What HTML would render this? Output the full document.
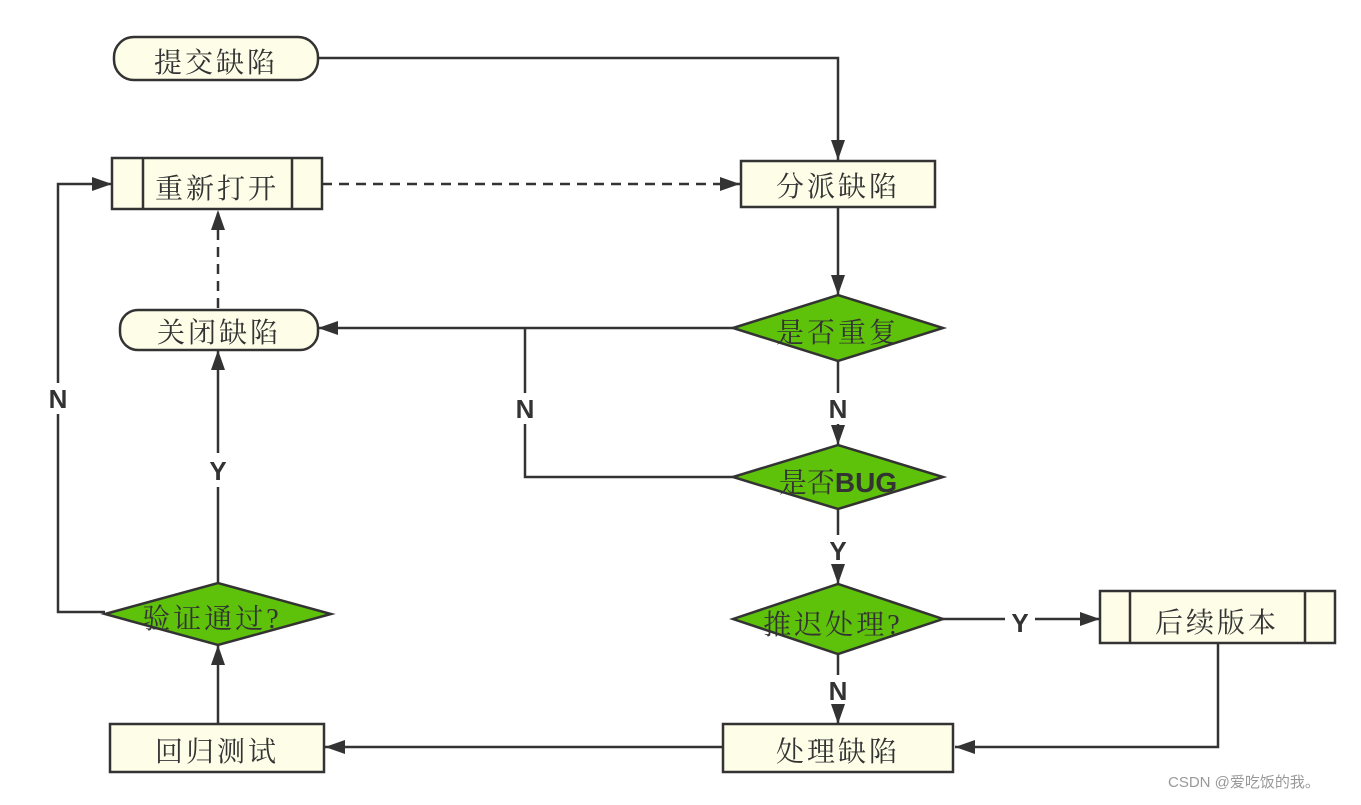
<!DOCTYPE html>
<html><head><meta charset="utf-8"><style>
body{margin:0;background:#fff;}
svg text{font-family:"Liberation Serif","Noto Serif CJK SC",serif;font-size:28px;fill:#333;}
.l{font-family:"Liberation Sans",sans-serif;font-weight:bold;font-size:26px;}
</style></head><body>
<svg width="1361" height="800" viewBox="0 0 1361 800" xmlns="http://www.w3.org/2000/svg">
<defs>
<marker id="b" markerWidth="20" markerHeight="14" refX="20" refY="7" orient="auto" markerUnits="userSpaceOnUse"><path d="M0,0 L20,7 L0,14z" fill="#333"/></marker></defs>
<g stroke="#333" stroke-width="2.5" fill="none">
<polyline points="318,58 838,58 838,160" marker-end="url(#b)"/>
<line x1="838" y1="207" x2="838" y2="295" marker-end="url(#b)"/>
<line x1="322" y1="184" x2="740" y2="184" stroke-dasharray="10,7" marker-end="url(#b)"/>
<line x1="218" y1="308" x2="218" y2="210" stroke-dasharray="10,7" marker-end="url(#b)"/>
<line x1="733" y1="328" x2="318" y2="328" marker-end="url(#b)"/>
<polyline points="838,361 838,393"/><line x1="838" y1="424" x2="838" y2="445" marker-end="url(#b)"/>
<polyline points="733,477 525,477 525,424"/><line x1="525" y1="393" x2="525" y2="328"/>
<polyline points="838,509 838,535"/><line x1="838" y1="565" x2="838" y2="584" marker-end="url(#b)"/>
<line x1="943" y1="619" x2="1005" y2="619"/><line x1="1035" y1="619" x2="1100" y2="619" marker-end="url(#b)"/>
<polyline points="1218,643 1218,747 955,747" marker-end="url(#b)"/>
<line x1="838" y1="654" x2="838" y2="675"/><line x1="838" y1="705" x2="838" y2="724" marker-end="url(#b)"/>
<line x1="723" y1="747" x2="325" y2="747" marker-end="url(#b)"/>
<line x1="218" y1="724" x2="218" y2="645" marker-end="url(#b)"/>
<line x1="218" y1="583" x2="218" y2="487"/><line x1="218" y1="453" x2="218" y2="350" marker-end="url(#b)"/>
<polyline points="105,612 58,612 58,414"/><polyline points="58,383 58,184 112,184" marker-end="url(#b)"/>
</g>
<g stroke="#333" stroke-width="2.5" fill="#fefde8">
<rect x="114" y="37" width="204" height="43" rx="20"/>
<rect x="741" y="161" width="194" height="46"/>
<rect x="112" y="158" width="210" height="51"/>
<line x1="143" y1="158" x2="143" y2="209"/><line x1="292" y1="158" x2="292" y2="209"/>
<rect x="120" y="310" width="198" height="40" rx="18"/>
<rect x="1100" y="591" width="235" height="52"/>
<line x1="1130" y1="591" x2="1130" y2="643"/><line x1="1305" y1="591" x2="1305" y2="643"/>
<rect x="723" y="724" width="230" height="48"/>
<rect x="110" y="724" width="214" height="48"/>
</g>
<g stroke="#333" stroke-width="2.5" fill="#5ec10a">
<polygon points="733,328 838,295 943,328 838,361"/>
<polygon points="733,477 838,445 943,477 838,509"/>
<polygon points="733,619 838,584 943,619 838,654"/>
<polygon points="105,614 218,583 331,614 218,645"/>
</g>
<g text-anchor="middle">
<text x="216" y="72" letter-spacing="3">提交缺陷</text>
<text x="838" y="196" letter-spacing="3">分派缺陷</text>
<text x="217" y="198" letter-spacing="3">重新打开</text>
<text x="219" y="342" letter-spacing="3">关闭缺陷</text>
<text x="838" y="342" letter-spacing="3">是否重复</text>
<text x="838" y="492">是否<tspan style="font-family:'Liberation Sans',sans-serif;font-weight:bold">BUG</tspan></text>
<text x="833" y="634" letter-spacing="3">推迟处理?</text>
<text x="1217" y="632" letter-spacing="3">后续版本</text>
<text x="838" y="761" letter-spacing="3">处理缺陷</text>
<text x="217" y="761" letter-spacing="3">回归测试</text>
<text x="212" y="628" letter-spacing="3">验证通过?</text>
<text class="l" x="838" y="418">N</text>
<text class="l" x="525" y="418">N</text>
<text class="l" x="838" y="560">Y</text>
<text class="l" x="1020" y="632">Y</text>
<text class="l" x="838" y="700">N</text>
<text class="l" x="218" y="480">Y</text>
<text class="l" x="58" y="408">N</text>
</g>
<text x="1168" y="787" style="font-family:'Liberation Sans','Noto Sans CJK SC',sans-serif;font-size:15px;fill:#999">CSDN @爱吃饭的我。</text>
</svg>
</body></html>
